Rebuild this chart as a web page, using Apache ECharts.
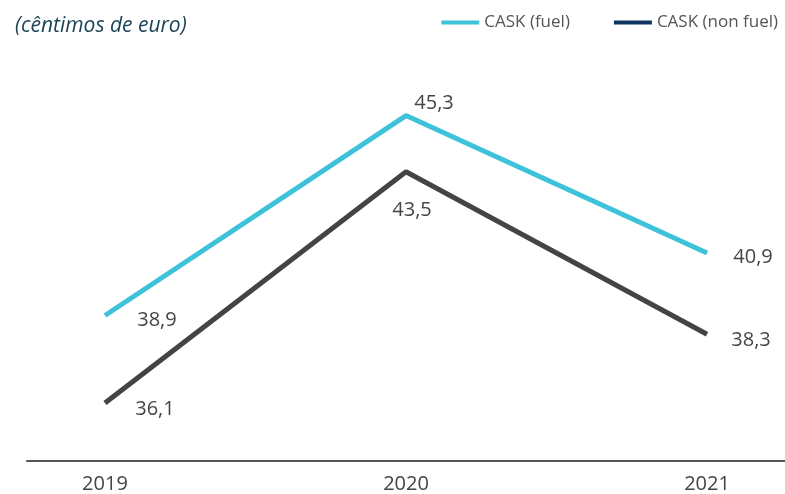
<!DOCTYPE html>
<html>
<head>
<meta charset="utf-8">
<script src="https://cdn.jsdelivr.net/npm/echarts@6/dist/echarts.min.js"></script>
<style>
  html, body { margin: 0; padding: 0; background: #fff; }
  #chart { width: 785px; height: 494px; }
</style>
</head>
<body>
<div id="chart"></div>
<script>
const years = [2019, 2020, 2021];
const caskFuel = [38.9, 45.3, 40.9];
const caskNonFuel = [36.1, 43.5, 38.3];
const seriesNames = ['CASK (fuel)', 'CASK (non fuel)'];

const chart = echarts.init(document.getElementById('chart'));

// where each value label sits, relative to its point
const fuelLabelOffsets = [[52, 5], [28, -12], [46, 4]];
const nonFuelLabelOffsets = [[50, 6], [6, 38], [44, 6]];

function toPoints(values, offsets) {
  return values.map((v, i) => ({
    value: [years[i], v],
    label: { offset: offsets[i] },
  }));
}

function fmt(v) {
  return v.toFixed(1).replace('.', ',');
}

const labelStyle = {
  show: true,
  position: 'inside',
  fontFamily: 'Open Sans',
  fontSize: 20,
  color: '#454545',
  formatter: (p) => fmt(p.value[1]),
};

chart.setOption({
  animation: false,
  title: {
    text: '(cêntimos de euro)',
    left: 10,
    top: 11,
    textStyle: {
      fontFamily: 'Open Sans',
      fontStyle: 'italic',
      fontWeight: 'normal',
      fontSize: 21,
      color: '#1c4459',
    },
  },
  legend: {
    top: 9,
    right: 2,
    itemGap: 44,
    itemWidth: 38,
    itemHeight: 4,
    icon: 'rect',
    textStyle: { fontFamily: 'Open Sans', fontSize: 17, color: '#555' },
    data: [
      { name: seriesNames[0], itemStyle: { color: '#3ec2d9', opacity: 1 } },
      { name: seriesNames[1], itemStyle: { color: '#0f3460', opacity: 1 } },
    ],
  },
  grid: { left: 27, right: 0, top: 50, bottom: 32 },
  xAxis: {
    type: 'value',
    min: 2018.741,
    max: 2021.259,
    splitLine: { show: false },
    axisTick: { show: false },
    axisLine: { show: true, lineStyle: { color: '#555', width: 2 } },
    axisLabel: {
      customValues: years,
      margin: 13,
      fontFamily: 'Open Sans',
      fontSize: 20,
      color: '#444',
      formatter: (v) => String(v),
    },
  },
  yAxis: {
    type: 'value',
    min: 34.24,
    max: 47.4,
    show: false,
  },
  series: [
    {
      name: seriesNames[0],
      type: 'line',
      data: toPoints(caskFuel, fuelLabelOffsets),
      symbol: 'circle',
      symbolSize: 0,
      itemStyle: { color: '#3ec2d9' },
      lineStyle: { color: '#3ec2d9', width: 5 },
      label: labelStyle,
    },
    {
      name: seriesNames[1],
      type: 'line',
      data: toPoints(caskNonFuel, nonFuelLabelOffsets),
      symbol: 'circle',
      symbolSize: 0,
      itemStyle: { color: '#444' },
      lineStyle: { color: '#444444', width: 5 },
      label: labelStyle,
    },
  ],
});
</script>
</body>
</html>
